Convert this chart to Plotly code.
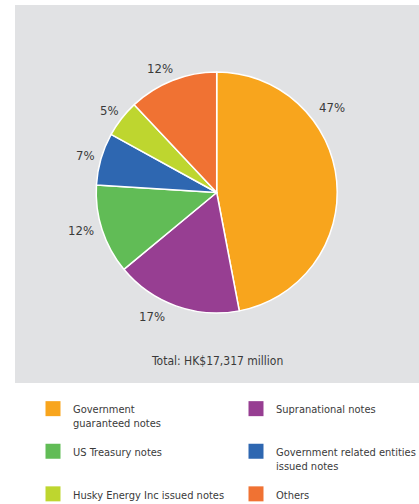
import plotly.graph_objects as go

W, H = 419, 504

categories = [
    "Government<br>guaranteed notes",
    "Supranational notes",
    "US Treasury notes",
    "Government related entities<br>issued notes",
    "Husky Energy Inc issued notes",
    "Others",
]
shares = [47, 17, 12, 7, 5, 12]
colors = ["#F8A51D", "#973E92", "#61BC56", "#2E67B1", "#BED62F", "#F07233"]
total_label = "Total: HK$17,317 million"

FONT = "DejaVu Sans Condensed, Liberation Sans Narrow, Roboto, sans-serif"
TXT = "#3a3a3a"

# pie geometry (pixels)
cx, cy, r = 216.7, 192.5, 120.5

def px(x):
    return x / W

def py(y):
    return 1 - y / H

fig = go.Figure()
fig.add_trace(go.Pie(
    labels=categories,
    values=shares,
    sort=False,
    direction="clockwise",
    rotation=0,
    marker=dict(colors=colors, line=dict(color="white", width=1.5)),
    textinfo="none",
    hoverinfo="label+percent",
    showlegend=False,
    domain=dict(x=[px(cx - r), px(cx + r)], y=[py(cy + r), py(cy - r)]),
))

# legend entries (square swatches) built from the same category / colour lists,
# laid out in two columns (left: even items, right: odd items)
n = len(categories)
for i, (name, col) in enumerate(zip(categories, colors)):
    last_row = i >= n - 2
    label = name if ("<br>" in name or last_row) else name + "<br> "
    fig.add_trace(go.Scatter(
        x=[None], y=[None], mode="markers", name=label,
        marker=dict(symbol="square", size=15, color=col),
        showlegend=True, hoverinfo="skip",
        legend="legend" if i % 2 == 0 else "legend2",
        legendgroup=f"g{i}",
    ))

# label positions (pixel) for each slice's percentage text
label_pos = [(331.5, 107), (152, 316), (81, 231), (85, 155), (109, 110), (160, 69)]
annotations = []
for v, (lx, ly) in zip(shares, label_pos):
    annotations.append(dict(
        x=px(lx), y=py(ly), xref="paper", yref="paper",
        text=f"{v}%", showarrow=False,
        font=dict(family=FONT, size=13, color=TXT),
        xanchor="center", yanchor="middle",
    ))
annotations.append(dict(
    x=px(216.7), y=py(361), xref="paper", yref="paper",
    text=total_label, showarrow=False,
    font=dict(family=FONT, size=12, color=TXT),
    xanchor="center", yanchor="middle",
))

legend_common = dict(
    orientation="v",
    y=py(395), yanchor="top",
    valign="top",
    itemsizing="trace",
    font=dict(family=FONT, size=11, color=TXT),
    bgcolor="rgba(0,0,0,0)",
    traceorder="grouped",
    tracegroupgap=11,
)

fig.update_layout(
    width=W, height=H,
    margin=dict(l=0, r=0, t=0, b=0, autoexpand=False),
    paper_bgcolor="white",
    plot_bgcolor="rgba(0,0,0,0)",
    xaxis=dict(visible=False),
    yaxis=dict(visible=False),
    shapes=[dict(
        type="rect", xref="paper", yref="paper",
        x0=px(15), x1=1.0, y0=py(383), y1=py(5),
        fillcolor="#E1E2E4", line=dict(width=0), layer="below",
    )],
    annotations=annotations,
    showlegend=True,
    legend=dict(x=px(33), xanchor="left", **legend_common),
    legend2=dict(x=px(236), xanchor="left", **legend_common),
    font=dict(family=FONT, color=TXT),
)

fig.write_html(
    "out.html",
    config={"displayModeBar": False},
    post_script="document.body.style.margin='0';document.body.style.overflow='hidden';",
)
